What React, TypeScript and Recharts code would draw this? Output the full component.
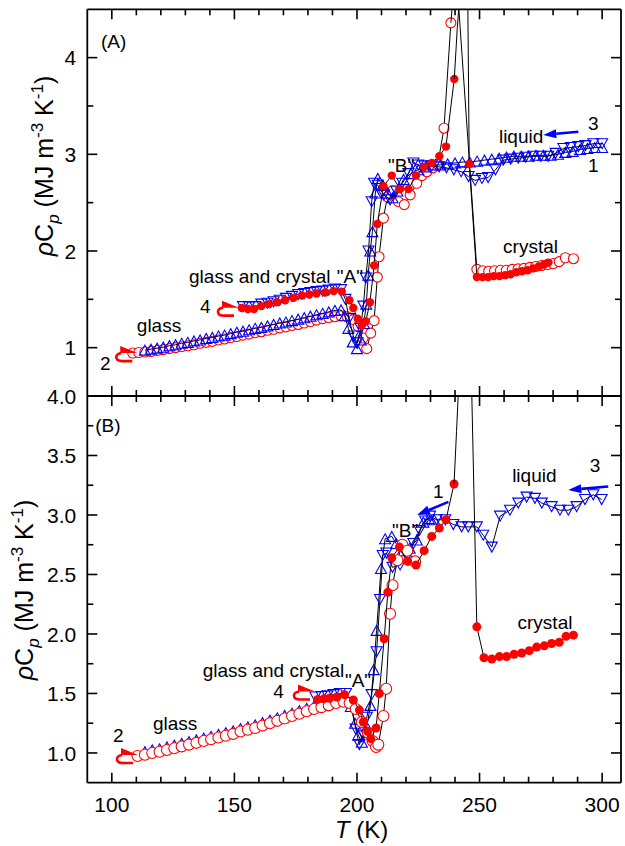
import React from 'react';
import { ScatterChart, Scatter, XAxis, YAxis, ReferenceDot, ReferenceLine } from 'recharts';

const RED = '#ff0000';
const BLUE = '#0000ff';
const FONT = '"Liberation Sans", Arial, Helvetica, sans-serif';

type Pt = [number, number];

// ---------------- Panel (A) ----------------
const topOpenGlass: Pt[] = [
  [108.5, 0.945], [111, 0.95], [113.5, 0.955], [116, 0.96], [118.5, 0.97], [121, 0.98], [123.5, 0.99], [126, 1.0],
  [128.5, 1.01], [131, 1.02], [133.5, 1.03], [136, 1.045], [138.5, 1.055], [141, 1.065], [143.5, 1.08], [146, 1.09],
  [148.5, 1.105], [151, 1.115], [153.5, 1.13], [156, 1.14], [158.5, 1.155], [161, 1.165], [163.5, 1.18], [166, 1.19],
  [168.5, 1.205], [171, 1.215], [173.5, 1.23], [176, 1.24], [178.5, 1.255], [181, 1.27], [183.5, 1.285], [186, 1.3],
  [188.5, 1.31], [191, 1.32], [193.5, 1.33], [196, 1.32], [198.5, 1.29], [200.5, 1.22], [202.5, 1.1], [204, 0.99],
  [205.6, 1.15], [207, 1.28], [208.3, 1.73], [209, 1.94], [210.8, 2.34], [212.4, 2.56], [214.5, 2.62], [216.9, 2.51],
  [219.3, 2.48], [221.7, 2.58], [224.4, 2.7], [226.5, 2.78], [228.5, 2.82], [231, 2.86], [233, 2.9], [235.5, 3.27],
  [238.3, 4.36],
];
const topOpenPeak: Pt[] = [[238.3, 4.36], [239.1, 4.6], [240.2, 20], [241.3, 4.6], [248.9, 1.81]];
const topOpenCrystal: Pt[] = [
  [248.9, 1.81], [251.3, 1.795], [253.7, 1.79], [256.1, 1.795], [258.5, 1.8], [260.9, 1.8], [263.3, 1.81],
  [265.7, 1.815], [268.1, 1.82], [270.5, 1.83], [272.9, 1.84], [275.3, 1.85], [277.7, 1.86], [280.1, 1.87],
  [282.5, 1.89], [285, 1.93], [288.3, 1.92],
];
const topFilledA: Pt[] = [
  [153, 1.41], [155.5, 1.4], [158, 1.4], [161, 1.43], [164, 1.45], [167.3, 1.47], [170.7, 1.49], [174.1, 1.515],
  [177.5, 1.54], [180.5, 1.55], [183.5, 1.56], [187, 1.57], [190.5, 1.585], [193.8, 1.58], [196.9, 1.49],
  [198.5, 1.41], [200.3, 1.3], [202, 1.23], [203.6, 1.27], [205.3, 1.47], [207, 1.85], [208.3, 2.28], [210.8, 2.67],
  [214.2, 2.78], [217.6, 2.64], [221, 2.64], [224.1, 2.78], [227.4, 2.87], [230.5, 2.91], [233.6, 2.98],
  [236.3, 3.08], [239.7, 3.78],
];
const topFilledPeak: Pt[] = [[239.7, 3.78], [240.9, 4.3], [241.8, 4.6], [243.2, 20], [245.2, 4.6], [245.8, 2.9]];
const topFilledB: Pt[] = [
  [245.8, 2.9], [248.9, 1.73], [251.2, 1.73], [253.5, 1.73], [255.8, 1.74], [258.1, 1.74], [260.4, 1.75],
  [262.7, 1.76], [265, 1.78], [267.3, 1.79], [269.6, 1.8], [271.9, 1.82], [274.2, 1.84], [276.3, 1.86], [278.1, 1.88],
];
const topDown: Pt[] = [
  [300, 3.11], [296.4, 3.11], [293.2, 3.09], [290.3, 3.08], [287.2, 3.07], [284.2, 3.06], [281, 3.01], [278, 2.98],
  [275, 2.98], [271.9, 2.98], [268.8, 2.97], [265.8, 2.96], [262.7, 2.95], [259.7, 2.94], [256.5, 2.84],
  [253.5, 2.76], [251, 2.75], [248.2, 2.73], [245.5, 2.77], [242.5, 2.82], [239.5, 2.84], [236.5, 2.86],
  [233.5, 2.87], [230.5, 2.88], [227.5, 2.88], [225, 2.89], [223, 2.91], [221, 2.8], [218.5, 2.7], [216, 2.62],
  [213.5, 2.53], [211, 2.58], [208.5, 2.68], [207, 2.7], [206, 2.51], [204.7, 2.0], [203.6, 1.72], [202.6, 1.43],
  [201.5, 1.2], [200.2, 1.05], [198.5, 1.12], [196.8, 1.3], [195.3, 1.5], [193.5, 1.6], [191, 1.605], [188.5, 1.595],
  [186, 1.585], [183.5, 1.58], [181, 1.57], [178.5, 1.56], [176, 1.55], [173.5, 1.53], [171, 1.51], [168.5, 1.49],
  [166, 1.475], [163.5, 1.46], [161, 1.45], [158.5, 1.425], [156, 1.42], [153.5, 1.425],
];
const topUp: Pt[] = [
  [300, 3.07], [297, 3.07], [294, 3.06], [291, 3.05], [288, 3.03], [285, 3.02], [282, 3.0], [279, 2.99], [276, 2.99],
  [273, 2.99], [270, 2.98], [267, 2.98], [264, 2.98], [261, 2.97], [258, 2.96], [255, 2.95], [252, 2.94], [249, 2.93],
  [246, 2.92], [243, 2.92], [240, 2.91], [237, 2.9], [234, 2.89], [231, 2.89], [228, 2.87], [225, 2.84], [222, 2.8],
  [219, 2.74], [216.5, 2.62], [214.5, 2.55], [212.5, 2.6], [210.5, 2.68], [208.5, 2.75], [207.5, 2.6], [206.3, 2.2],
  [205.4, 2.0], [204.6, 1.75], [203.8, 1.45], [202.8, 1.25], [201.5, 1.08], [200, 0.99], [198.3, 1.06], [196.5, 1.2],
  [195, 1.33], [193.5, 1.39], [191, 1.385], [188.5, 1.37], [186, 1.355], [183.5, 1.34], [181, 1.325], [178.5, 1.31],
  [176, 1.295], [173.5, 1.28], [171, 1.265], [168.5, 1.255], [166, 1.24], [163.5, 1.225], [161, 1.21], [158.5, 1.2],
  [156, 1.185], [153.5, 1.17], [151, 1.16], [148.5, 1.145], [146, 1.13], [143.5, 1.12], [141, 1.105], [138.5, 1.095],
  [136, 1.08], [133.5, 1.07], [131, 1.055], [128.5, 1.045], [126, 1.03], [123.5, 1.02], [121, 1.005], [118.5, 0.995],
  [116, 0.985], [113.5, 0.975],
];

// ---------------- Panel (B) ----------------
const botOpen: Pt[] = [
  [110.5, 0.975], [113.5, 0.985], [116.5, 1.0], [119.5, 1.01], [122.5, 1.025], [125.5, 1.04], [128.5, 1.055],
  [131.5, 1.07], [134.5, 1.085], [137.5, 1.1], [140.5, 1.115], [143.5, 1.13], [146.5, 1.145], [149.5, 1.16],
  [152.5, 1.18], [155.5, 1.195], [158.5, 1.21], [161.5, 1.23], [164.5, 1.25], [167.5, 1.27], [170.5, 1.29],
  [173.5, 1.31], [176.5, 1.33], [179.5, 1.35], [182.5, 1.37], [185.5, 1.385], [188.5, 1.4], [191.5, 1.42],
  [194.5, 1.43], [197, 1.42], [199.5, 1.37], [202, 1.26], [204.5, 1.17], [206.4, 1.1], [207.8, 1.05], [208.7, 1.07],
  [210.8, 1.31], [211.9, 1.54], [213.5, 2.17], [214.5, 2.41], [216.5, 2.62], [218.5, 2.75], [220.5, 2.7], [223.7, 2.61],
];
const botFilledA: Pt[] = [
  [184, 1.45], [186.5, 1.455], [188.8, 1.46], [191.8, 1.47], [194.9, 1.49], [198.5, 1.445], [201, 1.36], [202.6, 1.26],
  [204.4, 1.18], [205.6, 1.12], [207.8, 1.21], [209.1, 1.5], [211.1, 1.96], [212.6, 2.35], [214.2, 2.64], [217.3, 2.73],
  [220.7, 2.61], [224.1, 2.58], [227.4, 2.7], [230.5, 2.82], [233.6, 2.89], [236.3, 2.96], [239.6, 3.26],
];
const botFilledPeak: Pt[] = [[239.6, 3.26], [240.6, 3.7], [241.4, 4.05], [243.5, 20], [246.8, 4.05], [248.9, 2.06]];
const botFilledB: Pt[] = [
  [248.9, 2.06], [251.8, 1.8], [255, 1.79], [258.1, 1.81], [261, 1.81], [264.1, 1.83], [267.2, 1.84], [270.3, 1.86],
  [273.3, 1.89], [276.4, 1.9], [279.4, 1.92], [282.5, 1.93], [285.3, 1.98], [288.3, 1.99],
];
const botDown: Pt[] = [
  [299.8, 3.13], [296.4, 3.17], [293, 3.13], [289.6, 3.07], [286.2, 3.04], [282.8, 3.04], [279.4, 3.07], [275.4, 3.1],
  [272.6, 3.14], [269.2, 3.15], [265.8, 3.1], [262.4, 3.04], [258.4, 2.99], [255, 2.73], [251.5, 2.83], [248.9, 2.9],
  [245.4, 2.9], [242.7, 2.9], [239.3, 2.92], [236, 2.96], [232.5, 2.96], [229.8, 2.99], [227.8, 2.95], [225.5, 2.87],
  [223, 2.76], [220.5, 2.65], [217.6, 2.58], [214.5, 2.56], [212, 2.68], [210.5, 2.66], [209.4, 2.29], [208, 1.85],
  [206, 1.49], [204, 1.3], [202.5, 1.15], [201, 1.07], [199.5, 1.2], [197.5, 1.42], [195.5, 1.5], [193, 1.5],
  [190.5, 1.49], [188, 1.48], [185.5, 1.475], [183, 1.47],
];
const botUp: Pt[] = [
  [231.5, 2.96], [229.3, 2.97], [227.1, 2.94], [224.4, 2.79], [221.5, 2.72], [218.5, 2.7], [216, 2.76], [214.2, 2.82],
  [211.5, 2.8], [209.8, 2.55], [208, 2.03], [206.8, 1.7], [205.5, 1.4], [204, 1.22], [202, 1.09], [200.5, 1.15],
  [199.2, 1.25], [197.5, 1.39], [195, 1.46], [191.5, 1.445], [188.5, 1.425], [185.5, 1.41], [182.5, 1.395],
  [179.5, 1.375], [176.5, 1.355], [173.5, 1.335], [170.5, 1.315], [167.5, 1.295], [164.5, 1.275], [161.5, 1.255],
  [158.5, 1.235], [155.5, 1.22], [152.5, 1.205], [149.5, 1.185], [146.5, 1.17], [143.5, 1.155], [140.5, 1.14],
  [137.5, 1.125], [134.5, 1.11], [131.5, 1.095], [128.5, 1.08], [125.5, 1.065], [122.5, 1.05], [119.5, 1.035],
  [116.5, 1.025], [113.5, 1.01],
];

// ---------------- axes ----------------
const X_DOMAIN: [number, number] = [90, 307.7];
const X_TICKS = [100, 110, 120, 130, 140, 150, 160, 170, 180, 190, 200, 210, 220, 230, 240, 250, 260, 270, 280, 290, 300];
const X_MAJOR = [100, 150, 200, 250, 300];
const TOP_Y_DOMAIN: [number, number] = [0.5, 4.5];
const TOP_Y_TICKS = [1, 1.5, 2, 2.5, 3, 3.5, 4];
const TOP_Y_MAJOR = [1, 2, 3, 4];
const BOT_Y_DOMAIN: [number, number] = [0.75, 4.0];
const BOT_Y_TICKS = [1, 1.25, 1.5, 1.75, 2, 2.25, 2.5, 2.75, 3, 3.25, 3.5, 3.75, 4];
const BOT_Y_MAJOR = [1, 1.5, 2, 2.5, 3, 3.5, 4];

// annotations: [T, value, text]
type Note = [number, number, string];
const topNotes: Note[] = [
  [95.6, 4.1, '(A)'], [110.2, 1.164, 'glass'], [131.5, 1.668, 'glass and crystal'], [136, 1.357, '4'],
  [95.2, 0.767, '2'], [191.8, 1.668, '"A"'], [212.7, 2.817, '"B"'], [257.9, 3.117, 'liquid'],
  [294.2, 3.25, '3'], [294.2, 2.817, '1'], [259.6, 1.978, 'crystal'],
];
const botNotes: Note[] = [
  [93.2, 3.697, '(B)'], [116.8, 1.193, 'glass'], [137.1, 1.639, 'glass and crystal'], [165.8, 1.465, '4'],
  [100.5, 1.092, '2'], [195.1, 1.555, '"A"'], [214.3, 2.815, '"B"'], [263.3, 3.277, 'liquid'],
  [295, 3.361, '3'], [231, 3.143, '1'], [265.5, 2.042, 'crystal'],
];
const topHooks: Pt[] = [[106.3, 0.944], [147.8, 1.414]];
const botHooks: Pt[] = [[106.6, 0.983], [178.8, 1.517]];
// arrows: [tailT, tailV, headT, headV]
const topArrows: [number, number, number, number][] = [[290.3, 3.234, 276.0, 3.2]];
const botArrows: [number, number, number, number][] = [[302.5, 3.24, 286.2, 3.21], [237.3, 3.11, 224.5, 3.0]];

const toPts = (a: Pt[]) => a.map(([t, v]) => ({ t, v }));
const near = (v: number, arr: number[]) => arr.some((m) => Math.abs(m - v) < 1e-6);

const AX = { stroke: '#000', strokeWidth: 1.8 };
const TK = { stroke: '#000', strokeWidth: 1.6 };
const MAJ = 10;
const MIN = 6;

const leftTick = (majors: number[], fmt: (v: number) => string) => (p: any) => {
  const v = p.payload.value;
  const m = near(v, majors);
  return (
    <g>
      <line x1={p.x} y1={p.y} x2={p.x + (m ? MAJ : MIN)} y2={p.y} {...TK} />
      {m && (
        <text x={p.x - 11} y={p.y} dy="0.36em" textAnchor="end" fontSize={21} fontFamily={FONT} fill="#000">
          {fmt(v)}
        </text>
      )}
    </g>
  );
};
const rightTick = (majors: number[]) => (p: any) => {
  const m = near(p.payload.value, majors);
  return <line x1={p.x} y1={p.y} x2={p.x - (m ? MAJ : MIN)} y2={p.y} {...TK} />;
};
const bottomTick = (labels: boolean) => (p: any) => {
  const v = p.payload.value;
  const m = near(v, X_MAJOR);
  return (
    <g>
      <line x1={p.x} y1={p.y} x2={p.x} y2={p.y - (m ? MAJ : MIN)} {...TK} />
      {labels && m && (
        <text x={p.x} y={p.y + 29} textAnchor="middle" fontSize={21} fontFamily={FONT} fill="#000">
          {v}
        </text>
      )}
    </g>
  );
};
const topTick = (p: any) => {
  const m = near(p.payload.value, X_MAJOR);
  return <line x1={p.x} y1={p.y} x2={p.x} y2={p.y + (m ? MAJ : MIN)} {...TK} />;
};

// marker shapes
const openC = (r: number) => (p: any) => <circle cx={p.cx} cy={p.cy} r={r} fill="#fff" stroke={RED} strokeWidth={1.1} />;
const fillC = (r: number) => (p: any) => <circle cx={p.cx} cy={p.cy} r={r} fill={RED} />;
const triUp = (p: any) => {
  const w = 11, h = 10;
  return (
    <path d={`M${p.cx - w / 2},${p.cy + h / 2} L${p.cx},${p.cy - h / 2} L${p.cx + w / 2},${p.cy + h / 2} Z`}
      fill="none" stroke={BLUE} strokeWidth={1.1} />
  );
};
const triDown = (p: any) => {
  const w = 11, h = 10;
  return (
    <path d={`M${p.cx - w / 2},${p.cy - h / 2} L${p.cx},${p.cy + h / 2} L${p.cx + w / 2},${p.cy - h / 2} Z`}
      fill="none" stroke={BLUE} strokeWidth={1.1} />
  );
};
const noMark = () => <g />;

const hookShape = (p: any) => (
  <g transform={`translate(${p.cx},${p.cy})`}>
    <path d="M -6 0 Q -11 1 -11 4 Q -11 8 -5 8 L 5 8" fill="none" stroke={RED} strokeWidth={2.6} />
    <path d="M -7 -7 L 10 0 L -7 0 Z" fill={RED} />
  </g>
);
const textShape = (s: string) => (p: any) => (
  <text x={p.cx} y={p.cy} fontSize={19} fontFamily={FONT} fill="#000">
    {s}
  </text>
);
const arrowShape = (p: any) => {
  const { x1, y1, x2, y2 } = p;
  const dx = x2 - x1, dy = y2 - y1;
  const L = Math.hypot(dx, dy) || 1;
  const ux = dx / L, uy = dy / L;
  const hl = 13, hw = 4.5;
  const bx = x2 - ux * hl, by = y2 - uy * hl;
  return (
    <g>
      <line x1={x1} y1={y1} x2={bx} y2={by} stroke={BLUE} strokeWidth={2.6} />
      <path d={`M${x2},${y2} L${bx - uy * hw},${by + ux * hw} L${bx + uy * hw},${by - ux * hw} Z`} fill={BLUE} />
    </g>
  );
};

type Series = { data: Pt[]; shape: any };

function Panel(props: {
  height: number; margin: any; yDomain: [number, number]; yTicks: number[]; yMajor: number[];
  fmt: (v: number) => string; xLabels: boolean; bottomH: number; series: Series[];
  notes: Note[]; hooks: Pt[]; arrows: [number, number, number, number][];
}) {
  const { height, margin, yDomain, yTicks, yMajor, fmt, xLabels, bottomH, series, notes, hooks, arrows } = props;
  return (
    <ScatterChart width={625} height={height} margin={margin}>
      <XAxis type="number" dataKey="t" domain={X_DOMAIN} allowDataOverflow ticks={X_TICKS} interval={0}
        tick={bottomTick(xLabels)} tickLine={false} tickSize={0} tickMargin={0} height={bottomH} axisLine={AX} />
      <XAxis xAxisId="top" orientation="top" type="number" dataKey="t" domain={X_DOMAIN} allowDataOverflow
        ticks={X_TICKS} interval={0} tick={topTick} tickLine={false} tickSize={0} tickMargin={0} height={5} axisLine={AX} />
      <YAxis type="number" dataKey="v" domain={yDomain} allowDataOverflow ticks={yTicks} interval={0}
        tick={leftTick(yMajor, fmt)} tickLine={false} tickSize={0} tickMargin={0} width={87.3} axisLine={AX} />
      <YAxis yAxisId="right" orientation="right" type="number" dataKey="v" domain={yDomain} allowDataOverflow
        ticks={yTicks} interval={0} tick={rightTick(yMajor)} tickLine={false} tickSize={0} tickMargin={0} width={4} axisLine={AX} />
      {series.map((s, i) => (
        <Scatter key={'s' + i} data={toPts(s.data)} shape={s.shape} line={{ stroke: '#000', strokeWidth: 1 }}
          lineType="joint" isAnimationActive={false} />
      ))}
      {notes.map((n, i) => (
        <ReferenceDot key={'n' + i} x={n[0]} y={n[1]} r={0} shape={textShape(n[2])} />
      ))}
      {hooks.map((h, i) => (
        <ReferenceDot key={'h' + i} x={h[0]} y={h[1]} r={0} shape={hookShape} />
      ))}
      {arrows.map((a, i) => (
        <ReferenceLine key={'a' + i} segment={[{ x: a[0], y: a[1] }, { x: a[2], y: a[3] }]} shape={arrowShape} />
      ))}
    </ScatterChart>
  );
}

const topSeries: Series[] = [
  { data: topOpenGlass, shape: openC(5) },
  { data: topOpenPeak, shape: noMark },
  { data: topOpenCrystal, shape: openC(5) },
  { data: topUp, shape: triUp },
  { data: topDown, shape: triDown },
  { data: topFilledA, shape: fillC(4.2) },
  { data: topFilledPeak, shape: noMark },
  { data: topFilledB, shape: fillC(4.2) },
];
const botSeries: Series[] = [
  { data: botUp, shape: triUp },
  { data: botDown, shape: triDown },
  { data: botOpen, shape: openC(5.5) },
  { data: botFilledA, shape: fillC(4.5) },
  { data: botFilledPeak, shape: noMark },
  { data: botFilledB, shape: fillC(4.5) },
];

const YTitle = ({ x, y }: { x: number; y: number }) => (
  <text transform={`translate(${x},${y}) rotate(-90)`} textAnchor="middle" fontSize={25} fontFamily={FONT} fill="#000">
    <tspan fontStyle="italic">ρ</tspan>
    <tspan>C</tspan>
    <tspan fontStyle="italic" fontSize={17} dy={6}>p</tspan>
    <tspan dy={-6}> (MJ m</tspan>
    <tspan fontSize={17} dy={-10}>-3</tspan>
    <tspan dy={10}> K</tspan>
    <tspan fontSize={17} dy={-10}>-1</tspan>
    <tspan dy={10}>)</tspan>
  </text>
);

export default function App() {
  return (
    <div style={{ position: 'absolute', left: 0, top: 0, width: 625, height: 846, background: '#fff' }}>
      <div style={{ position: 'absolute', left: 0, top: 0 }}>
        <Panel height={400} margin={{ top: 4.3, right: 0, bottom: 0, left: 0 }} yDomain={TOP_Y_DOMAIN}
          yTicks={TOP_Y_TICKS} yMajor={TOP_Y_MAJOR} fmt={(v) => String(v)} xLabels={false} bottomH={4}
          series={topSeries} notes={topNotes} hooks={topHooks} arrows={topArrows} />
      </div>
      <div style={{ position: 'absolute', left: 0, top: 380 }}>
        <Panel height={463} margin={{ top: 11, right: 0, bottom: 0.3, left: 0 }} yDomain={BOT_Y_DOMAIN}
          yTicks={BOT_Y_TICKS} yMajor={BOT_Y_MAJOR} fmt={(v) => v.toFixed(1)} xLabels={true} bottomH={60}
          series={botSeries} notes={botNotes} hooks={botHooks} arrows={botArrows} />
      </div>
      <svg width={625} height={846} style={{ position: 'absolute', left: 0, top: 0, pointerEvents: 'none' }}>
        <YTitle x={53} y={166} />
        <YTitle x={33} y={590} />
        <text x={361.7} y={838} textAnchor="middle" fontSize={24} fontFamily={FONT} fill="#000">
          <tspan fontStyle="italic">T</tspan> (K)
        </text>
      </svg>
    </div>
  );
}
